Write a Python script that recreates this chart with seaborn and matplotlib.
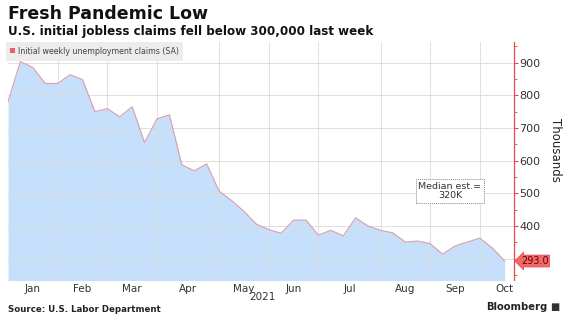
import numpy as np
import pandas as pd
import matplotlib
matplotlib.use("Agg")
import matplotlib.pyplot as plt
import seaborn as sns
from matplotlib.patches import Patch
from matplotlib.ticker import MultipleLocator

# ---- data (thousands, weekly, 2021) ----
claims = [780, 903, 885, 836, 836, 863, 848, 750, 759, 734,
          765, 655, 728, 740, 587, 569, 590, 507, 478, 445,
          406, 389, 378, 418, 418, 372, 387, 370, 425, 400,
          387, 379, 351, 354, 346, 314, 339, 351, 363, 333, 293]
month_labels = ["Jan", "Feb", "Mar", "Apr", "May", "Jun", "Jul", "Aug", "Sep", "Oct"]
month_label_pos = [2, 6, 10, 14.5, 19, 23, 27.5, 32, 36, 40]
month_grid_pos = [4, 8, 12, 17, 21, 25, 30, 34, 38]
y_ticks = [400, 500, 600, 700, 800, 900]
last_value = 293.0
median_est = "Median est.=\n320K"

df = pd.DataFrame({"week": np.arange(len(claims)), "claims": claims})

sns.set_style("white")
plt.rcParams["font.family"] = ["DejaVu Sans"]

fig = plt.figure(figsize=(5.66, 3.17), dpi=100)
ax = fig.add_axes([8/566, 1 - 280/317, (514 - 8)/566, (280 - 42)/317])

ax.fill_between(df["week"], df["claims"], 0, color="#c6e0fb", lw=0, zorder=1)
sns.lineplot(data=df, x="week", y="claims", ax=ax, color="#d9a3b3", lw=0.9, zorder=3)

ax.set_xlim(0, 40.75)
ax.set_ylim(235, 963)

# grid
for yv in [300] + y_ticks:
    ax.axhline(yv, color="#dadada", lw=0.6, zorder=2)
for xv in month_grid_pos:
    ax.axvline(xv, color="#dadada", lw=0.6, zorder=2)

# y axis on right
ax.yaxis.tick_right()
ax.set_yticks(y_ticks)
ax.set_yticklabels([str(v) for v in y_ticks])
ax.yaxis.set_minor_locator(MultipleLocator(50))
ax.tick_params(axis="y", which="major", colors="#e04b4b", labelcolor="#333333",
               labelsize=8, length=3, width=0.8, pad=1, direction="out")
ax.tick_params(axis="y", which="minor", colors="#e04b4b", length=2, width=0.6)
for s in ["top", "left", "bottom"]:
    ax.spines[s].set_visible(False)
ax.spines["right"].set_color("#e04b4b")
ax.spines["right"].set_linewidth(0.9)

ax.set_xticks(month_label_pos)
ax.set_xticklabels(month_labels)
ax.tick_params(axis="x", length=0, labelsize=7.5, labelcolor="#333333", pad=3)
ax.set_xlabel("")
ax.set_ylabel("")

fig.text(262/566, 1 - 297/317, "2021", fontsize=7.5, color="#333333", ha="center", va="center")
fig.text(555/566, 1 - 150/317, "Thousands", fontsize=8.5, color="#222222",
         rotation=270, ha="center", va="center")

# legend
leg = ax.legend(handles=[Patch(facecolor="#e8606a", edgecolor="none")],
                labels=["Initial weekly unemployment claims (SA)"],
                loc="upper left", bbox_to_anchor=(0.0, 0.99), fontsize=5.7,
                frameon=True, handlelength=0.6, handleheight=0.6, handletextpad=0.3,
                borderpad=0.3, borderaxespad=0.0)
leg.get_frame().set_facecolor("#ececec")
leg.get_frame().set_edgecolor("none")
leg.get_frame().set_boxstyle("square")
leg.get_frame().set_alpha(1)
leg.set_zorder(10)
for t in leg.get_texts():
    t.set_color("#444444")

# median estimate box
ax.text(35.6, 507, median_est, fontsize=6.8, color="#333333", ha="center", va="center",
        linespacing=1.1, zorder=5,
        bbox=dict(boxstyle="square,pad=0.3", facecolor="white", edgecolor="#888888",
                  linestyle=(0, (1, 1)), linewidth=0.7))

# last value label
ax.annotate(f"{last_value:.1f}", xy=(1.0, last_value), xycoords=("axes fraction", "data"),
            xytext=(5, 0), textcoords="offset points", fontsize=7, color="#6b0000",
            ha="left", va="center", annotation_clip=False, zorder=6,
            bbox=dict(boxstyle="larrow,pad=0.1", facecolor="#f06a6a", edgecolor="#e04b4b", lw=0.5))

# titles
fig.text(8/566, 1 - 14/317, "Fresh Pandemic Low", fontsize=12.5, fontweight="bold",
         color="#111111", ha="left", va="center")
fig.text(8/566, 1 - 31/317, "U.S. initial jobless claims fell below 300,000 last week",
         fontsize=8.6, fontweight="bold", color="#111111", ha="left", va="center")
fig.text(8/566, 1 - 310/317, "Source: U.S. Labor Department", fontsize=6.2,
         fontweight="bold", color="#222222", ha="left", va="center")
fig.text(547/566, 1 - 307/317, "Bloomberg", fontsize=7.2, fontweight="bold",
         color="#222222", ha="right", va="center")
fig.text(550/566, 1 - 307/317, "\u25A0", fontsize=7, color="#333333", ha="left", va="center")

fig.savefig("out.png", dpi=100, facecolor="white")
